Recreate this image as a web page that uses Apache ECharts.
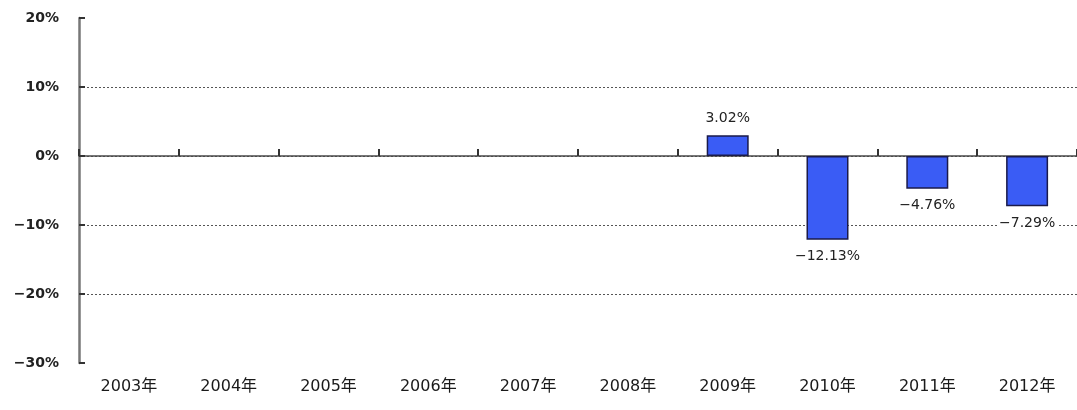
<!DOCTYPE html>
<html><head><meta charset="utf-8">
<script src="https://cdn.jsdelivr.net/npm/echarts@6/dist/echarts.min.js"></script>
<style>html,body{margin:0;padding:0;background:#fff}#c{width:1077px;height:410px}</style>
</head><body><div id="c"></div>
<script>
const categories = ['2003年','2004年','2005年','2006年','2007年','2008年','2009年','2010年','2011年','2012年'];
const values = [null,null,null,null,null,null,3.02,-12.13,-4.76,-7.29];
const yTicks = [-30,-20,-10,0,10,20];

const font = '"DejaVu Sans", "Noto Sans CJK JP", sans-serif';
const fmt = v => (v < 0 ? '\u2212' + Math.abs(v) : String(v));
const chart = echarts.init(document.getElementById('c'));
chart.setOption({
  animation:false,
  grid:{left:79,right:-1,top:18,bottom:47,containLabel:false},
  xAxis:[{
    type:'category',data:categories,position:'bottom',
    axisLine:{show:false},axisTick:{show:false},
    axisLabel:{color:'#1a1a1a',fontFamily:font,fontSize:16,margin:16}
  },{
    type:'category',data:categories,position:'top',offset:-138,
    axisLine:{show:true,lineStyle:{color:'#4a4a4a',width:1.5}},
    axisTick:{show:true,inside:false,length:7,lineStyle:{color:'#333',width:2}},
    axisLabel:{show:false}
  }],
  yAxis:{
    type:'value',min:yTicks[0],max:yTicks[yTicks.length-1],interval:10,
    axisLine:{show:true,lineStyle:{color:'#777',width:2.5}},
    axisTick:{show:true,inside:true,length:6,lineStyle:{color:'#333',width:2}},
    axisLabel:{formatter:v=>fmt(v)+'%',color:'#222',fontFamily:font,fontSize:14,fontWeight:'bold',margin:20},
    splitLine:{show:true,showMinLine:false,showMaxLine:false,lineStyle:{color:'#555',type:[2,2],width:1}}
  },
  series:[{
    type:'bar',xAxisIndex:1,barWidth:42,
    data:values.map(v=>v===null?null:{value:v,label:{position:v<0?'bottom':'top'}}),
    itemStyle:{color:'#3a5cf5',borderColor:'#1a1a4a',borderWidth:1.5},
    label:{show:true,formatter:p=>fmt(p.value.toFixed(2))+'%',color:'#222',fontFamily:font,fontSize:14,
      backgroundColor:'#fff',padding:[1,2],distance:9}
  }]
});
</script></body></html>
